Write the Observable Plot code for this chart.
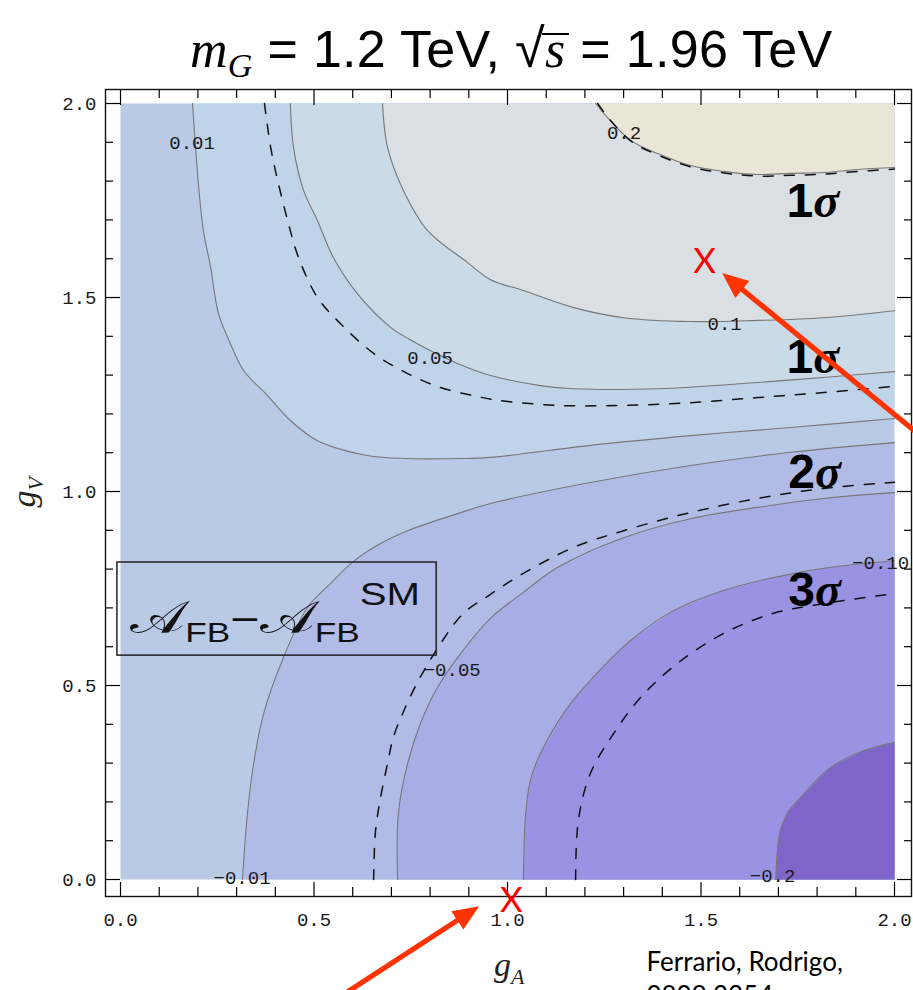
<!DOCTYPE html>
<html>
<head>
<meta charset="utf-8">
<script src="https://cdn.jsdelivr.net/npm/d3@7"></script>
<script src="https://cdn.jsdelivr.net/npm/@observablehq/plot@0.6"></script>
<style>
  html, body { margin:0; padding:0; background:#fff; overflow:hidden; }
  #page { position:relative; width:913px; height:990px; }
  #title { position:relative; height:72px; width:913px; z-index:2; }
  #title .t { position:absolute; left:190px; top:21px; white-space:nowrap;
    font-family:"Liberation Sans", Arial, sans-serif; font-size:52px; line-height:1; color:#000; letter-spacing:0.3px; }
  #title .it { font-family:"Liberation Serif", "Times New Roman", serif; font-style:italic; }
  #title .sub { font-family:"Liberation Serif", serif; font-style:italic; font-size:34px; position:relative; top:10px; }
  #title .rad { font-size:54px; }
  #title .ov { position:relative; display:inline-block; }
  #title .ov::before { content:""; position:absolute; left:-3px; right:-3px; top:10px; border-top:2.5px solid #000; }
  #chart svg { display:block; }
</style>
</head>
<body>
<div id="page">
  <div id="title"><span class="t"><span class="it">m</span><span class="sub">G</span> = 1.2 TeV, <span class="rad">√</span><span class="ov"><span class="it">s</span></span> = 1.96 TeV</span></div>
  <div id="chart"></div>
</div>
<script>
// ================= DATA =================
const gA_range = [0, 2];
const gV_range = [0, 2];
const majorTicks = [0, 0.5, 1, 1.5, 2];
const majorTickLabels = ["0.0", "0.5", "1.0", "1.5", "2.0"];
const minorTicks = [0.1,0.2,0.3,0.4,0.6,0.7,0.8,0.9,1.1,1.2,1.3,1.4,1.6,1.7,1.8,1.9];

// contour lines of A_FB - A_FB^SM, points [g_A, g_V]
const contour_p020 = [[1.228,2.0],[1.258,1.964],[1.318,1.905],[1.388,1.871],[1.473,1.840],[1.558,1.825],[1.646,1.817],[1.731,1.820],[1.817,1.822],[1.904,1.830],[2.0,1.835]];
const contour_p010 = [[0.677,2.0],[0.690,1.887],[0.731,1.776],[0.793,1.673],[0.897,1.590],[0.956,1.546],[1.041,1.518],[1.171,1.474],[1.300,1.448],[1.473,1.438],[1.646,1.441],[1.817,1.448],[2.0,1.466]];
const contour_p005 = [[0.439,2.0],[0.447,1.887],[0.473,1.776],[0.509,1.698],[0.550,1.603],[0.612,1.510],[0.698,1.423],[0.767,1.381],[0.871,1.330],[0.956,1.299],[1.085,1.273],[1.171,1.265],[1.388,1.265],[1.646,1.281],[1.817,1.294],[2.0,1.309]];
const contour_p001 = [[0.186,2.0],[0.194,1.887],[0.202,1.784],[0.214,1.673],[0.233,1.577],[0.253,1.459],[0.284,1.381],[0.318,1.312],[0.380,1.247],[0.439,1.183],[0.509,1.131],[0.638,1.093],[0.742,1.085],[0.871,1.085],[0.956,1.088],[1.214,1.119],[1.473,1.144],[1.731,1.165],[2.0,1.188]];
const contour_m001 = [[0.315,0.0],[0.328,0.170],[0.344,0.299],[0.370,0.428],[0.421,0.572],[0.483,0.701],[0.543,0.763],[0.602,0.820],[0.672,0.866],[0.742,0.899],[0.871,0.943],[0.956,0.969],[1.214,1.023],[1.473,1.067],[1.731,1.101],[2.0,1.126]];
const contour_m005 = [[0.716,0.0],[0.718,0.170],[0.742,0.299],[0.775,0.402],[0.819,0.495],[0.871,0.572],[0.956,0.673],[1.041,0.740],[1.129,0.804],[1.300,0.881],[1.473,0.930],[1.646,0.959],[1.817,0.982],[2.0,0.997]];
const contour_m010 = [[1.041,0.0],[1.047,0.170],[1.059,0.255],[1.085,0.325],[1.155,0.443],[1.214,0.513],[1.318,0.616],[1.429,0.693],[1.558,0.745],[1.687,0.778],[1.817,0.802],[2.0,0.822]];
const contour_m020 = [[1.693,0.0],[1.698,0.082],[1.705,0.126],[1.723,0.170],[1.757,0.211],[1.835,0.289],[1.920,0.332],[2.0,0.353]];

// dashed sigma bands, points [g_A, g_V]
const sigma1_upper = [[1.233,2.0],[1.262,1.961],[1.322,1.901],[1.392,1.866],[1.476,1.836],[1.560,1.821],[1.646,1.813],[1.731,1.815],[1.817,1.818],[1.904,1.825],[2.0,1.831]];
const sigma1_lower = [[0.372,2.0],[0.388,1.887],[0.406,1.802],[0.432,1.698],[0.460,1.603],[0.509,1.500],[0.568,1.433],[0.654,1.356],[0.742,1.304],[0.827,1.268],[0.912,1.247],[0.977,1.235],[1.129,1.222],[1.300,1.222],[1.473,1.229],[1.646,1.242],[1.817,1.255],[2.0,1.271]];
const sigma2 = [[0.654,0.0],[0.659,0.126],[0.672,0.211],[0.690,0.299],[0.705,0.366],[0.729,0.428],[0.770,0.513],[0.827,0.608],[0.886,0.686],[0.956,0.735],[1.041,0.789],[1.171,0.856],[1.300,0.899],[1.473,0.946],[1.646,0.982],[1.817,1.008],[2.0,1.024]];
const sigma3 = [[1.176,0.0],[1.183,0.152],[1.214,0.273],[1.274,0.376],[1.344,0.469],[1.439,0.557],[1.558,0.634],[1.687,0.686],[1.817,0.711],[2.0,0.737]];

// labels
const contourLabels = [
  {text:"0.01",  x:0.185, y:1.899},
  {text:"0.05",  x:0.800, y:1.345},
  {text:"0.2",   x:1.301, y:1.923},
  {text:"0.1",   x:1.561, y:1.433},
  {text:"\u22120.01", x:0.314, y:0.005},
  {text:"\u22120.05", x:0.857, y:0.539},
  {text:"\u22120.10", x:1.964, y:0.817},
  {text:"\u22120.2",  x:1.685, y:0.010}
];
const sigmaLabels = [
  {n:"1", x:1.791, y:1.706},
  {n:"1", x:1.791, y:1.304},
  {n:"2", x:1.796, y:1.008},
  {n:"3", x:1.796, y:0.703}
];
const legendBox = [{x1:-0.008, x2:0.817, y1:0.577, y2:0.817}];
const legendText = [{x:0.026, y:0.634, parts:["\uD835\uDC9C","FB","\u2212","\uD835\uDC9C","FB","SM"]}];
const axisTitles = [
  {base:"g", sub:"A", x:1.006, y:-0.250, rotate:0},
  {base:"g", sub:"V", x:-0.220, y:0.997, rotate:-90}
];
const crossMarks = [{label:"X", x:1.509, y:1.593}, {label:"X", x:1.010, y:-0.054}];
const arrows = [
  {x1:0.543, y1:-0.320, x2:0.928, y2:-0.070},
  {x1:2.119, y1:1.101, x2:1.556, y2:1.562}
];
const citation = [
  {text:"Ferrario, Rodrigo,", x:1.359, y:-0.214},
  {text:"0809.3354", x:1.359, y:-0.302}
];

// ================= CHART =================
const [xMin, xMax] = gA_range, [yMin, yMax] = gV_range;
const fx = d => d[0], fy = d => d[1];
const upper = c => [...c, [xMax, yMax]];
const lower = c => [...c, [xMax, yMin]];
const background = [[xMin, yMin], [xMax, yMin], [xMax, yMax], [xMin, yMax]];

const COL = {
  A:"#E9E5D7", B:"#D9DFE3", C:"#CADAE7", D:"#C0D4E9", E:"#B9CAE6",
  F:"#B1BBE6", G:"#A8ADE5", H:"#9A92E2", I:"#7F65C9"
};
const fillMark = (poly, color) => Plot.line(poly, {x: fx, y: fy, fill: color, stroke: "none"});
const contourMark = c => Plot.line(c, {x: fx, y: fy, stroke: "#777", strokeWidth: 1.1, curve: "catmull-rom"});
const dashMark = c => Plot.line(c, {x: fx, y: fy, stroke: "#111", strokeWidth: 1.5, strokeDasharray: "10,11", curve: "catmull-rom"});

const SANS = "Liberation Sans, Arial, sans-serif";
const SERIF = "Liberation Serif, Times New Roman, serif";
const MONO = "Liberation Mono, Courier New, monospace";
const SCRIPT = "DejaVu Serif, DejaVu Sans, serif";

const sigmaMark = (index, {x, y}) => {
  const g = d3.create("svg:g");
  for (const d of sigmaLabels) {
    const X = x(d.x), Y = y(d.y);
    g.append("text").attr("x", X).attr("y", Y).attr("text-anchor", "end")
      .attr("font-family", SANS).attr("font-weight", "bold").attr("font-size", 48).attr("fill", "#000").text(d.n);
    g.append("text").attr("x", X).attr("y", Y).attr("text-anchor", "start")
      .attr("font-family", SERIF).attr("font-style", "italic").attr("font-weight", "bold").attr("font-size", 48).attr("fill", "#000").text("\u03C3");
  }
  return g.node();
};

const legendMark = (index, {x, y}) => {
  const g = d3.create("svg:g");
  const sizes = [46, 28, 40, 46, 28, 32];
  const dys = [0, 9, -9, 0, 9, -37];
  const fams = [SCRIPT, SANS, SANS, SCRIPT, SANS, SANS];
  for (const d of legendText) {
    const t = g.append("text").attr("x", x(d.x)).attr("y", y(d.y)).attr("fill", "#111")
      .attr("text-anchor", "start").attr("textLength", 290).attr("lengthAdjust", "spacingAndGlyphs");
    d.parts.forEach((p, i) => {
      t.append("tspan").attr("font-family", fams[i]).attr("font-size", sizes[i]).attr("dy", dys[i]).text(p);
    });
  }
  return g.node();
};

const axisTitleMark = (index, {x, y}) => {
  const g = d3.create("svg:g");
  for (const d of axisTitles) {
    const X = x(d.x), Y = y(d.y);
    const t = g.append("text").attr("x", X).attr("y", Y).attr("text-anchor", "middle")
      .attr("transform", d.rotate ? `rotate(${d.rotate},${X},${Y})` : null)
      .attr("font-family", SERIF).attr("font-style", "italic").attr("fill", "#222");
    t.append("tspan").attr("font-size", 34).text(d.base);
    t.append("tspan").attr("font-size", 22).attr("dy", 8).text(d.sub);
  }
  return g.node();
};

const arrowMark = (index, {x, y}) => {
  const g = d3.create("svg:g");
  for (const a of arrows) {
    const x1 = x(a.x1), y1 = y(a.y1), x2 = x(a.x2), y2 = y(a.y2);
    const dx = x2 - x1, dy = y2 - y1, L = Math.hypot(dx, dy);
    const ux = dx / L, uy = dy / L, nx = -uy, ny = ux;
    const head = 26, hw = 11, sw = 2.6;
    const bx = x2 - ux * head, by = y2 - uy * head;
    const pts = [[x1 + nx*sw, y1 + ny*sw], [bx + nx*sw, by + ny*sw], [bx + nx*hw, by + ny*hw], [x2, y2],
                 [bx - nx*hw, by - ny*hw], [bx - nx*sw, by - ny*sw], [x1 - nx*sw, y1 - ny*sw]];
    g.append("path").attr("d", "M" + pts.map(p => p.join(",")).join("L") + "Z").attr("fill", "#FF3300");
  }
  return g.node();
};

const noText = () => "";
const tickLab = d => majorTickLabels[majorTicks.indexOf(d)];

const chart = Plot.plot({
  width: 913, height: 918,
  marginTop: 17, marginRight: 2, marginBottom: 94, marginLeft: 105,
  x: {domain: [-0.0388, 2.0439]},
  y: {domain: [-0.0438, 2.0361]},
  style: {background: "white", overflow: "hidden", fontFamily: SANS},
  marks: [
    fillMark(background, COL.E),
    fillMark(upper(contour_p001), COL.D),
    fillMark(upper(contour_p005), COL.C),
    fillMark(upper(contour_p010), COL.B),
    fillMark(upper(contour_p020), COL.A),
    fillMark(lower(contour_m001), COL.F),
    fillMark(lower(contour_m005), COL.G),
    fillMark(lower(contour_m010), COL.H),
    fillMark(lower(contour_m020), COL.I),
    ...[contour_p020, contour_p010, contour_p005, contour_p001, contour_m001, contour_m005, contour_m010, contour_m020].map(contourMark),
    ...[sigma1_upper, sigma1_lower, sigma2, sigma3].map(dashMark),
    Plot.text(contourLabels, {x: "x", y: "y", text: "text", fontFamily: MONO, fontSize: 19, fill: "#1a1a1a", lineAnchor: "middle"}),
    sigmaMark,
    Plot.rect(legendBox, {x1: "x1", x2: "x2", y1: "y1", y2: "y2", fill: "none", stroke: "#222", strokeWidth: 1.5}),
    legendMark,
    Plot.frame({stroke: "#111", strokeWidth: 1.4}),
    Plot.axisX(majorTicks, {anchor: "bottom", tickSize: -14, tickPadding: 30, tickFormat: tickLab, fontFamily: MONO, fontSize: 19, fill: "#1a1a1a", label: null, strokeWidth: 1.2}),
    Plot.axisX(minorTicks, {anchor: "bottom", tickSize: -9, tickFormat: noText, label: null, strokeWidth: 1.2}),
    Plot.axisX(majorTicks, {anchor: "top", tickSize: -15, tickFormat: noText, label: null, strokeWidth: 1.2}),
    Plot.axisX(minorTicks, {anchor: "top", tickSize: -8, tickFormat: noText, label: null, strokeWidth: 1.2}),
    Plot.axisY(majorTicks, {anchor: "left", tickSize: -15, tickPadding: 24, tickFormat: tickLab, fontFamily: MONO, fontSize: 19, fill: "#1a1a1a", label: null, strokeWidth: 1.2}),
    Plot.axisY(minorTicks, {anchor: "left", tickSize: -8, tickFormat: noText, label: null, strokeWidth: 1.2}),
    Plot.axisY(majorTicks, {anchor: "right", tickSize: -15, tickFormat: noText, label: null, strokeWidth: 1.2}),
    Plot.axisY(minorTicks, {anchor: "right", tickSize: -8, tickFormat: noText, label: null, strokeWidth: 1.2}),
    axisTitleMark,
    Plot.text(citation, {x: "x", y: "y", text: "text", textAnchor: "start", lineAnchor: "middle", fontFamily: "Lato, Open Sans, sans-serif", fontSize: 26, fill: "#000"}),
    Plot.text(crossMarks, {x: "x", y: "y", text: "label", fontFamily: "Lato, Open Sans, sans-serif", fontSize: 35, fill: "#FF0000", lineAnchor: "middle"}),
    arrowMark
  ]
});
document.getElementById("chart").appendChild(chart);
</script>
</body>
</html>
